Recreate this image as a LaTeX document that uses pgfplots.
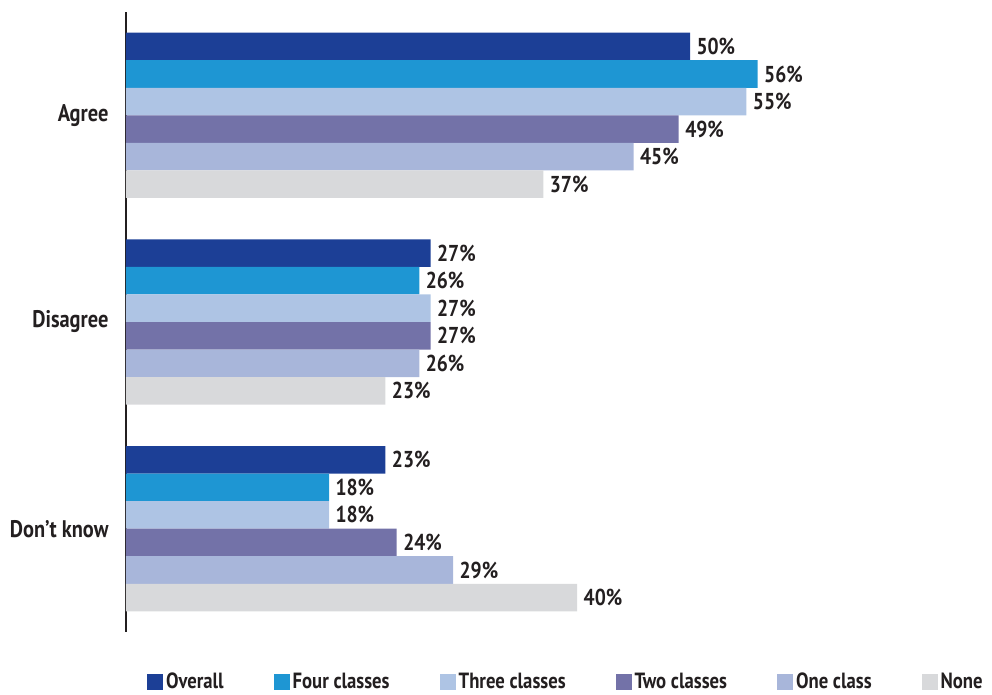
\documentclass[border=0pt]{standalone}
\usepackage{fontspec}
\setmainfont{PT Sans}[FakeStretch=0.85]
\usepackage{pgfplots}
\pgfplotsset{compat=1.18}
\definecolor{cOverall}{HTML}{1C3F96}
\definecolor{cFour}{HTML}{1E96D3}
\definecolor{cThree}{HTML}{AEC4E4}
\definecolor{cTwo}{HTML}{7372A8}
\definecolor{cOne}{HTML}{A8B6DA}
\definecolor{cNone}{HTML}{D8D9DB}
\definecolor{txt}{HTML}{231F20}
\newcommand{\lblfont}{\fontsize{24}{28}\selectfont\bfseries}
\newcommand{\valfont}{\fontsize{23}{27}\selectfont\bfseries}
\newcommand{\legfont}{\fontsize{22}{26}\selectfont\bfseries}
\begin{document}
\begin{tikzpicture}
\begin{axis}[
  scale only axis, width=676.8pt, height=620pt,
  xmin=0, xmax=60, ymin=-0.5, ymax=2.5, y dir=reverse,
  hide x axis,
  axis y line*=left,
  y axis line style={-, line width=1.5pt, color=txt},
  ytick={0,1,2}, yticklabels={Agree,Disagree,Don’t know},
  major tick length=0pt,
  yticklabel style={font=\lblfont, text=txt, xshift=-14pt},
  xbar, bar width=0.1333, bar shift=0pt,
  every axis plot/.append style={draw=none},
  /pgf/number format/assume math mode=true,
  nodes near coords={\pgfmathprintnumber{\pgfplotspointmeta}\%},
  every node near coord/.append style={font=\valfont, text=txt, anchor=west, xshift=3pt},
  legend columns=6,
  legend style={draw=none, fill=none, at={(axis description cs:0,0)}, anchor=north west,
    xshift=18pt, yshift=-36pt, font=\legfont, text=txt,
    /tikz/every even column/.append style={column sep=47pt},
    nodes={inner sep=3pt}},
  legend image code/.code={\fill[#1] (0pt,-8pt) rectangle (16pt,8pt);},
  clip=false,
]
\coordinate (TL) at (axis description cs:0,1);
\addplot[fill=cOverall] coordinates {(50,-0.3333) (27,0.6667) (23,1.6667)};
\addplot[fill=cFour]    coordinates {(56,-0.2) (26,0.8) (18,1.8)};
\addplot[fill=cThree]   coordinates {(55,-0.0667) (27,0.9333) (18,1.9333)};
\addplot[fill=cTwo]     coordinates {(49,0.0667) (27,1.0667) (24,2.0667)};
\addplot[fill=cOne]     coordinates {(45,0.2) (26,1.2) (29,2.2)};
\addplot[fill=cNone]    coordinates {(37,0.3333) (23,1.3333) (40,2.3333)};
\legend{Overall,Four classes,Three classes,Two classes,One class,None}
\end{axis}
\pgfresetboundingbox
\path (TL) ++(-126pt,12pt) rectangle ++(992pt,-694pt);
\end{tikzpicture}
\end{document}
